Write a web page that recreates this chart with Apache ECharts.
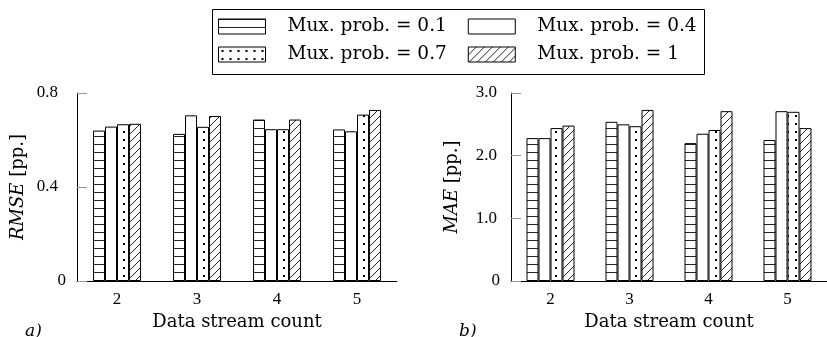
<!DOCTYPE html>
<html>
<head>
<meta charset="utf-8">
<script src="https://cdn.jsdelivr.net/npm/echarts@6/dist/echarts.min.js"></script>
<style>
    html, body { margin: 0; padding: 0; background: #fff; }
    #chart { width: 827px; height: 337px; }
</style>
</head>
<body>
<div id="chart"></div>
<script>
    // data
    var streamCounts = ['2', '3', '4', '5'];
    var probNames = ['Mux. prob. = 0.1', 'Mux. prob. = 0.4', 'Mux. prob. = 0.7', 'Mux. prob. = 1'];

    var rmse01 = [0.640, 0.626, 0.687, 0.645];
    var rmse04 = [0.657, 0.705, 0.646, 0.637];
    var rmse07 = [0.667, 0.656, 0.646, 0.708];
    var rmse10 = [0.669, 0.702, 0.687, 0.728];

    var mae01 = [2.28, 2.54, 2.20, 2.25];
    var mae04 = [2.28, 2.50, 2.35, 2.71];
    var mae07 = [2.44, 2.47, 2.41, 2.70];
    var mae10 = [2.48, 2.73, 2.71, 2.44];

    var serif = 'DejaVu Serif';
    var numFont = 'Liberation Serif';

    // fill patterns like the pgfplots ones
    function makePattern(kind) {
        var c = document.createElement('canvas');
        c.width = 8;
        c.height = 8;
        var ctx = c.getContext('2d');
        ctx.fillStyle = '#fff';
        ctx.fillRect(0, 0, 8, 8);
        ctx.strokeStyle = '#222';
        ctx.fillStyle = '#000';
        ctx.lineWidth = 1;
        if (kind == 'hlines') {
            ctx.beginPath();
            ctx.moveTo(0, 0.5);
            ctx.lineTo(8, 0.5);
            ctx.stroke();
        } else if (kind == 'dots') {
            ctx.fillRect(3, 3, 2, 2);
        } else if (kind == 'nelines') {
            ctx.beginPath();
            ctx.moveTo(-1, 9);
            ctx.lineTo(9, -1);
            ctx.moveTo(-1, 1);
            ctx.lineTo(1, -1);
            ctx.moveTo(7, 9);
            ctx.lineTo(9, 7);
            ctx.stroke();
        }
        return {image: c, repeat: 'repeat'};
    }

    var fills = [makePattern('hlines'), '#fff', makePattern('dots'), makePattern('nelines')];

    function barSeries(name, data, idx, fill) {
        return {
            name: name,
            type: 'bar',
            xAxisIndex: idx,
            yAxisIndex: idx,
            data: data,
            barWidth: 12,
            barGap: '0%',
            itemStyle: {
                color: fill,
                borderColor: '#000',
                borderWidth: 1
            },
            emphasis: {disabled: true},
            animation: false
        };
    }

    function xAxisOpt(idx) {
        return {
            type: 'category',
            gridIndex: idx,
            data: streamCounts,
            name: 'Data stream count',
            nameLocation: 'middle',
            nameGap: 32,
            nameTextStyle: {fontFamily: serif, fontSize: 18, color: '#000'},
            axisLine: {lineStyle: {color: '#000', width: 1}},
            axisTick: {show: false},
            axisLabel: {fontFamily: numFont, fontSize: 17, color: '#000', margin: 10}
        };
    }

    function yAxisOpt(idx, max, step, title, pad) {
        return {
            type: 'value',
            gridIndex: idx,
            min: 0,
            max: max,
            interval: step,
            name: title,
            nameLocation: 'middle',
            nameGap: 50,
            nameTextStyle: {
                fontFamily: serif, fontSize: 18, color: '#000',
                rich: {i: {fontFamily: serif, fontSize: 18, fontStyle: 'italic', color: '#000'}}
            },
            axisLine: {show: true, lineStyle: {color: '#000', width: 1}},
            axisTick: {show: true, inside: true, length: 10, lineStyle: {color: '#999'}},
            splitLine: {show: false},
            axisLabel: {
                fontFamily: numFont, fontSize: 17, color: '#000', margin: 11,
                formatter: function (v) {
                    if (v === 0) return '0';
                    return '{p|' + v.toFixed(1) + '}';
                },
                rich: {p: {fontFamily: numFont, fontSize: 17, color: '#000', padding: [0, pad, 0, 0]}}
            }
        };
    }

    // one legend per row, the frame round both is drawn as a plain rect
    function legendRow(names, top) {
        return {
            data: names,
            left: 218,
            top: top,
            icon: 'rect',
            itemWidth: 47,
            itemHeight: 15,
            itemGap: 21,
            padding: 0,
            selectedMode: false,
            itemStyle: {borderWidth: 1, borderColor: '#000'},
            textStyle: {fontFamily: serif, fontSize: 18.5, color: '#000', padding: [0, 0, 0, 17]}
        };
    }

    var myChart = echarts.init(document.getElementById('chart'));
    myChart.setOption({
        animation: false,
        title: [
            {text: 'a)', left: 20, top: 318, textStyle: {fontFamily: serif, fontSize: 17, fontStyle: 'italic', fontWeight: 'normal', color: '#000'}},
            {text: 'b)', left: 454, top: 318, textStyle: {fontFamily: serif, fontSize: 17, fontStyle: 'italic', fontWeight: 'normal', color: '#000'}}
        ],
        legend: [
            legendRow([probNames[0], probNames[1]], 17),
            legendRow([probNames[2], probNames[3]], 45)
        ],
        graphic: [{
            type: 'rect',
            left: 210,
            top: 7,
            shape: {width: 492, height: 65},
            style: {fill: 'none', stroke: '#000', lineWidth: 1}
        }],
        grid: [
            {left: 77, top: 93, width: 320, height: 188},
            {left: 511, top: 93, width: 320, height: 188}
        ],
        xAxis: [xAxisOpt(0), xAxisOpt(1)],
        yAxis: [
            yAxisOpt(0, 0.8, 0.4, '{i|RMSE} [pp.]', 8),
            yAxisOpt(1, 3, 1, '{i|MAE} [pp.]', 3)
        ],
        series: [
            barSeries(probNames[0], rmse01, 0, fills[0]),
            barSeries(probNames[1], rmse04, 0, fills[1]),
            barSeries(probNames[2], rmse07, 0, fills[2]),
            barSeries(probNames[3], rmse10, 0, fills[3]),
            barSeries(probNames[0], mae01, 1, fills[0]),
            barSeries(probNames[1], mae04, 1, fills[1]),
            barSeries(probNames[2], mae07, 1, fills[2]),
            barSeries(probNames[3], mae10, 1, fills[3])
        ]
    });
</script>
</body>
</html>
